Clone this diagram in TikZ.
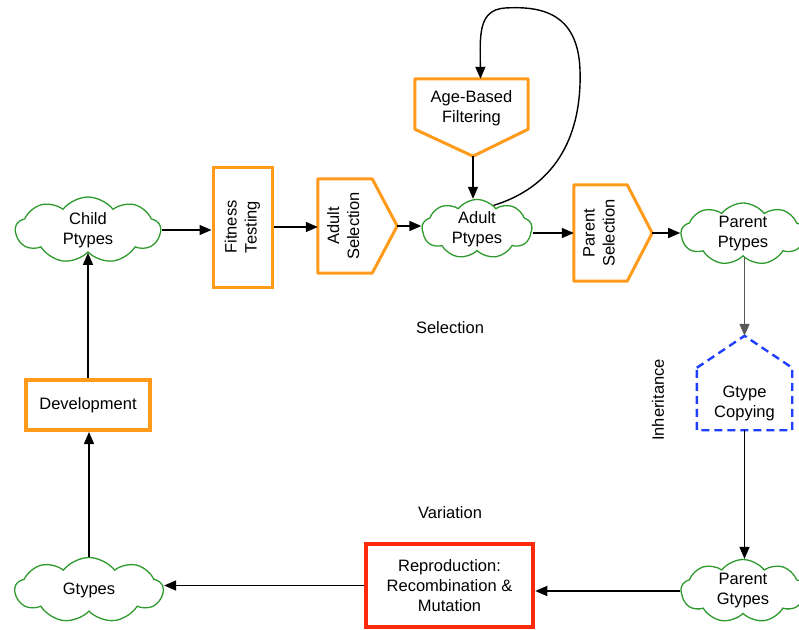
\documentclass[tikz,border=0pt]{standalone}
\usepackage{fontspec}
\setmainfont{Liberation Sans}
\usetikzlibrary{shapes.symbols,arrows.meta}
\definecolor{boxorange}{HTML}{FF9A1A}
\definecolor{cloudgreen}{HTML}{2E9A2E}
\definecolor{copyblue}{HTML}{1F3FFF}
\definecolor{reprored}{HTML}{FF2A0A}
\newcommand{\twolines}[2]{\begin{tabular}{@{}c@{}}#1\\#2\end{tabular}}
\newcommand{\upright}[2]{\rotatebox{90}{\twolines{#1}{#2}}}
\begin{document}
\begin{tikzpicture}[x=1pt,y=-1pt,
  font=\fontsize{16.5}{20}\selectfont,
  pool/.style={cloud, cloud puffs=9, cloud puff arc=105, cloud ignores aspect, draw=cloudgreen,
    line width=1.3pt, align=center, inner sep=0pt},
  stage/.style={draw=boxorange, line width=3pt, align=center, inner sep=0pt},
  body/.style={align=center, inner sep=0pt},
  flagline/.style={draw=boxorange, line width=3pt, line join=round},
  conn/.style={-{Triangle[length=12pt,width=10pt]}, line width=1.4pt},
  lbl/.style={align=center}]
\useasboundingbox (0,0) rectangle (799,629);

% phenotype / genotype pools
\node[pool, minimum width=145, minimum height=66] (child) at (88,230) {Child\\Ptypes};
\node[pool, minimum width=110, minimum height=58] (adult) at (477,229) {Adult\\Ptypes};
\node[pool, minimum width=124, minimum height=62] (pptypes) at (743,234) {Parent\\Ptypes};
\node[pool, minimum width=124, minimum height=63] (pgtypes) at (743,591) {Parent\\Gtypes};
\node[pool, minimum width=148, minimum height=65] (gtypes) at (89,590) {Gtypes};

% processing stages
\node[stage, minimum width=59, minimum height=120] (fit) at (242.5,227) {\upright{Fitness}{Testing}};

\node[body, minimum width=54, minimum height=94] (adsel) at (345,226) {\upright{Adult}{Selection}};
\coordinate (adseltip) at ([xshift=25pt]adsel.east);
\draw[flagline] (adsel.north west) -- (adsel.north east) -- (adseltip)
  -- (adsel.south east) -- (adsel.south west) -- cycle;

\node[body, minimum width=53, minimum height=96] (psel) at (600.5,233) {\upright{Parent}{Selection}};
\coordinate (pseltip) at ([xshift=25pt]psel.east);
\draw[flagline] (psel.north west) -- (psel.north east) -- (pseltip)
  -- (psel.south east) -- (psel.south west) -- cycle;

\node[body, minimum width=113, minimum height=50] (age) at (471.5,104) {};
\node[body] (agetext) at (471.5,108) {Age-Based\\Filtering};
\coordinate (agetip) at ([xshift=1.5pt,yshift=-27pt]age.south);
\draw[flagline] (age.north west) -- (age.north east) -- (age.south east)
  -- (agetip) -- (age.south west) -- cycle;

\node[body, minimum width=95, minimum height=62] (copy) at (744.5,399) {};
\node[body] (copytext) at (744.5,403) {Gtype\\Copying};
\coordinate (copytip) at ([yshift=32pt]copy.north);
\draw[draw=copyblue, line width=2.4pt, dash pattern=on 8pt off 5pt, line join=round]
  (copy.north west) -- (copytip) -- (copy.north east) -- (copy.south east)
  -- (copy.south west) -- cycle;

\node[stage, line width=4pt, minimum width=124, minimum height=50] (dev) at (88,405) {Development};
\node[draw=reprored, line width=4.5pt, align=center, inner sep=0pt,
  minimum width=167, minimum height=83] (repro) at (449.5,585.5) {Reproduction:\\Recombination \&\\Mutation};

% phase labels
\node[lbl] (selab) at (450,328) {Selection};
\node[lbl] (varlab) at (450,513) {Variation};
\node[lbl, rotate=90] (inhlab) at (658,400) {Inheritance};

% flow
\draw[conn] (child.east) -- (child.east -| fit.west);
\draw[conn] (fit.east) -- (fit.east -| adsel.west);
\draw[conn] (adseltip) -- (adseltip -| adult.west);
\draw[conn] (agetip) -- (agetip |- adult.north);
\draw[conn] (adult.east |- psel.west) -- (psel.west);
\draw[conn] (pseltip) -- (pseltip -| pptypes.west);
\draw[conn, draw=black!65, line width=1.8pt] (pptypes.south -| copytip) -- (copytip);
\draw[conn] (copy.south) -- (copy.south |- pgtypes.north);
\draw[conn] (pgtypes.west) -- (pgtypes.west -| repro.east);
\draw[conn] (repro.west) -- (repro.west -| gtypes.east);
\draw[conn] (gtypes.north) -- (gtypes.north |- dev.south);
\draw[conn] (dev.north) -- (dev.north |- child.south);

% re-filtering loop over the adult pool
\coordinate (loopin) at ([xshift=9pt]age.north);
\draw[conn] (adult.55) .. controls (560,185) and (582,130) .. (580,70)
  .. controls (578,12) and (540,6) .. (505,8)
  .. controls (478,10) and (480,35) .. (loopin);
\end{tikzpicture}
\end{document}
